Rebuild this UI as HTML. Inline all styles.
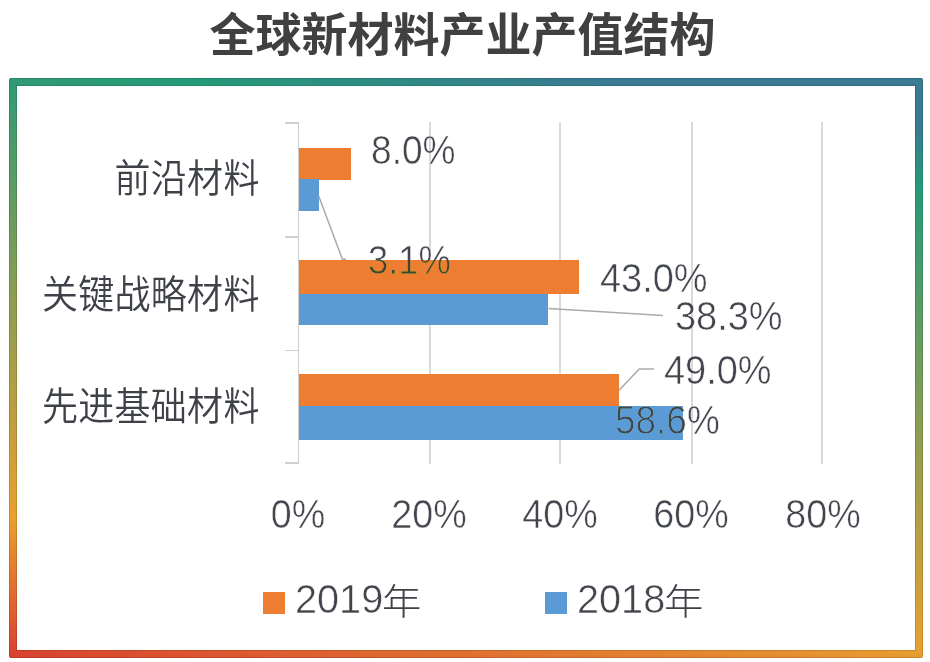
<!DOCTYPE html>
<html lang="zh-CN">
<head>
<meta charset="utf-8">
<title>全球新材料产业产值结构</title>
<style>
html,body{margin:0;padding:0;background:#fff;}
body{width:930px;height:662px;position:relative;overflow:hidden;
  font-family:"Liberation Sans","Noto Sans CJK SC",sans-serif;color:#4a4e54;}
.abs{position:absolute;}
#title{left:-2.6px;width:930px;top:-0.5px;height:70px;text-align:center;
  font-size:46px;font-weight:700;line-height:70px;color:#404040;white-space:nowrap;letter-spacing:0;}
#frame{left:9px;top:78px;width:914px;height:579.7px;border-radius:2px;
  background:linear-gradient(188.3deg,#3a7a92 0%,#3a7a92 7%,#259a78 15.5%,#e8a030 80%,#d84030 100%);box-shadow:inset 0 0 0 1px rgba(0,0,0,.13);}
#inner{left:7.6px;top:7.5px;right:8px;bottom:7.4px;background:#fff;box-shadow:0 0 0 1px rgba(0,0,0,.13);}
.grid{width:1.8px;background:#d9d9dc;top:122px;height:342px;}
.tick{height:1.5px;background:#d0d0d0;left:285px;width:14px;}
.bar{left:299px;}
.o{background:#ed7d31;}
.b{background:#5b9bd5;}
.num,.ax,.lg{-webkit-text-stroke:0.55px #fff;mix-blend-mode:darken;color:#42464c;}
.num{font-size:41.5px;line-height:44px;white-space:nowrap;transform:scaleX(.914);transform-origin:0 0;}
.cat{font-size:36px;line-height:44px;font-weight:350;white-space:nowrap;text-align:right;left:20px;width:239.7px;color:#3e4248;transform:scaleY(1.075);letter-spacing:0.3px;}
.ax{font-size:41.5px;line-height:44px;white-space:nowrap;width:120px;text-align:center;top:491.8px;transform:scaleX(.908);}
.lg{font-size:41.5px;line-height:44px;white-space:nowrap;transform:scaleX(.955);transform-origin:0 0;}
.lgc{color:#3e4248;font-weight:300;font-size:36.3px;line-height:44px;transform:scaleX(1.085);transform-origin:0 0;}
svg{left:0;top:0;}
</style>
</head>
<body>
<div id="title" class="abs">全球新材料产业产值结构</div>
<div id="frame" class="abs"><div id="inner" class="abs"></div></div>

<!-- gridlines -->
<div class="abs grid" style="left:297.6px;width:1.5px;background:#cdcdcd;height:341.5px"></div>
<div class="abs grid" style="left:429px"></div>
<div class="abs grid" style="left:559.3px"></div>
<div class="abs grid" style="left:691.3px"></div>
<div class="abs grid" style="left:821.1px"></div>
<!-- ticks -->
<div class="abs tick" style="top:122px"></div>
<div class="abs tick" style="top:236.1px"></div>
<div class="abs tick" style="top:349.8px"></div>
<div class="abs tick" style="top:462.4px"></div>

<!-- bars -->
<div class="abs bar o" style="top:148.2px;height:31.8px;width:51.7px"></div>
<div class="abs bar b" style="top:179.2px;height:32px;width:19.6px"></div>
<div class="abs bar o" style="top:259.9px;height:34.2px;width:279.8px"></div>
<div class="abs bar b" style="top:293.5px;height:31.3px;width:249.4px"></div>
<div class="abs bar o" style="top:374.2px;height:32px;width:319.8px"></div>
<div class="abs bar b" style="top:405.5px;height:34px;width:383.6px"></div>

<!-- leader lines -->
<svg class="abs" width="930" height="662" viewBox="0 0 930 662" fill="none" stroke="#aaaaaa" stroke-width="1.5">
  <polyline points="318.7,196 342.4,259.3 346,259.3"/>
  <polyline points="548.6,308.4 663,315.6"/>
  <polyline points="618.8,390.5 639.3,369 654,369"/>
</svg>

<!-- category labels -->
<div class="abs cat" style="top:157.1px">前沿材料</div>
<div class="abs cat" style="top:272.8px">关键战略材料</div>
<div class="abs cat" style="top:384.6px">先进基础材料</div>

<!-- data labels -->
<div class="abs num" style="left:370.8px;top:127.8px;transform:scaleX(.894)">8.0%</div>
<div class="abs num" style="left:368.2px;top:238.1px;transform:scaleX(.877)">3.1%</div>
<div class="abs num" style="left:600px;top:255.6px">43.0%</div>
<div class="abs num" style="left:675.3px;top:294.1px">38.3%</div>
<div class="abs num" style="left:663.5px;top:348.1px">49.0%</div>
<div class="abs num" style="left:615px;top:398.3px;transform:scaleX(.89)">58.6%</div>

<!-- axis labels -->
<div class="abs ax" style="left:238.2px">0%</div>
<div class="abs ax" style="left:369px">20%</div>
<div class="abs ax" style="left:500px">40%</div>
<div class="abs ax" style="left:631px">60%</div>
<div class="abs ax" style="left:762.6px">80%</div>

<!-- legend -->
<div class="abs o" style="left:263px;top:592px;width:22px;height:21.5px"></div>
<div class="abs lg" style="left:294.7px;top:576.6px">2019</div><div class="abs lgc" style="left:381.5px;top:580.7px">年</div>
<div class="abs b" style="left:545px;top:592px;width:22px;height:21.5px"></div>
<div class="abs lg" style="left:576.7px;top:576.6px">2018</div><div class="abs lgc" style="left:663.5px;top:580.7px">年</div>
</body>
</html>
